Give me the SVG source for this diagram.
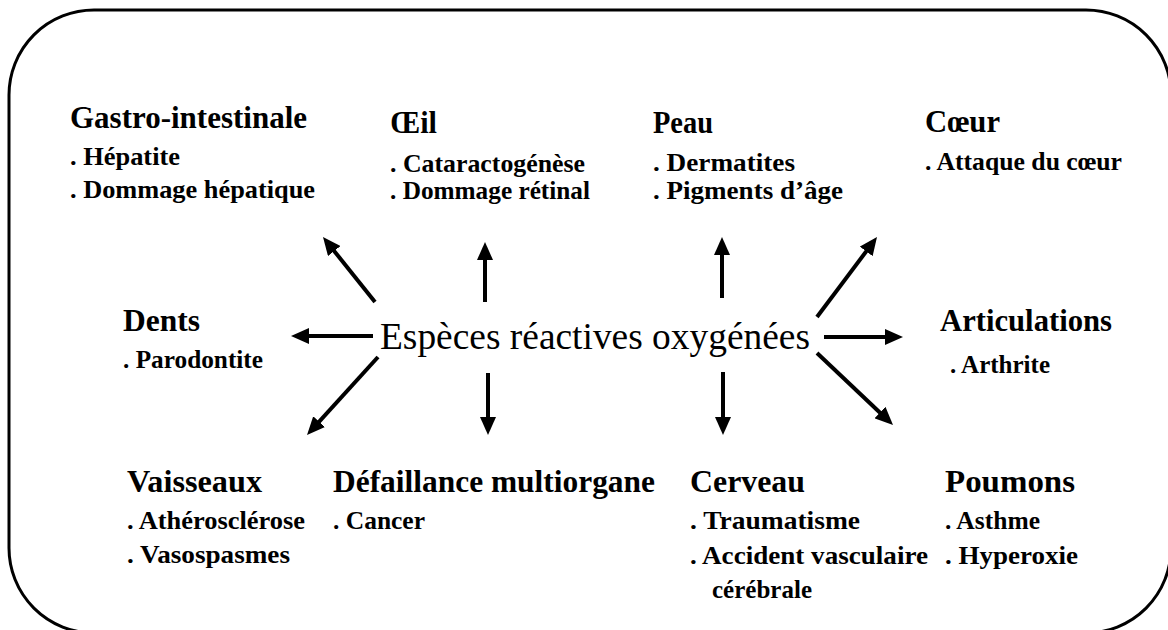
<svg xmlns="http://www.w3.org/2000/svg" width="1168" height="630" viewBox="0 0 1168 630">
<style>
.h{font-family:"Liberation Serif","Times New Roman",serif;font-weight:bold;font-size:32px;fill:#000}
.i{font-family:"Liberation Serif","Times New Roman",serif;font-weight:bold;font-size:26px;fill:#000}
.c{font-family:"Liberation Serif","Times New Roman",serif;font-size:38px;fill:#000}
.a{stroke:#000;stroke-width:4;fill:none;marker-end:url(#ah)}
</style>
<defs>
<marker id="ah" markerUnits="userSpaceOnUse" viewBox="0 0 18 16" markerWidth="18" markerHeight="16" refX="6" refY="8" orient="auto">
<path d="M0,0 L18,8 L0,16 z" fill="#000"/>
</marker>
</defs>
<rect width="1168" height="630" fill="#fff"/>
<rect x="9" y="10" width="1162" height="623" rx="85" ry="85" fill="none" stroke="#000" stroke-width="3"/>

<g id="center"><text class="c" x="380" y="349" textLength="430" lengthAdjust="spacingAndGlyphs">Espèces réactives oxygénées</text></g>

<g id="gastro">
<text class="h" x="70" y="128" textLength="237" lengthAdjust="spacingAndGlyphs">Gastro-intestinale</text>
<text class="i" x="70" y="165" textLength="110" lengthAdjust="spacingAndGlyphs">. Hépatite</text>
<text class="i" x="70" y="198" textLength="245" lengthAdjust="spacingAndGlyphs">. Dommage hépatique</text>
</g>
<g id="oeil">
<text class="h" x="390" y="133" textLength="47" lengthAdjust="spacingAndGlyphs">Œil</text>
<text class="i" x="390" y="172" textLength="195" lengthAdjust="spacingAndGlyphs">. Cataractogénèse</text>
<text class="i" x="390" y="199" textLength="200" lengthAdjust="spacingAndGlyphs">. Dommage rétinal</text>
</g>
<g id="peau">
<text class="h" x="653" y="133" textLength="60" lengthAdjust="spacingAndGlyphs">Peau</text>
<text class="i" x="653" y="171" textLength="142" lengthAdjust="spacingAndGlyphs">. Dermatites</text>
<text class="i" x="653" y="199" textLength="190" lengthAdjust="spacingAndGlyphs">. Pigments d’âge</text>
</g>
<g id="coeur">
<text class="h" x="925" y="132" textLength="75" lengthAdjust="spacingAndGlyphs">Cœur</text>
<text class="i" x="925" y="170" textLength="197" lengthAdjust="spacingAndGlyphs">. Attaque du cœur</text>
</g>
<g id="dents">
<text class="h" x="123" y="331" textLength="77" lengthAdjust="spacingAndGlyphs">Dents</text>
<text class="i" x="123" y="368" textLength="140" lengthAdjust="spacingAndGlyphs">. Parodontite</text>
</g>
<g id="articulations">
<text class="h" x="940" y="331" textLength="172" lengthAdjust="spacingAndGlyphs">Articulations</text>
<text class="i" x="950" y="373" textLength="100" lengthAdjust="spacingAndGlyphs">. Arthrite</text>
</g>
<g id="vaisseaux">
<text class="h" x="127" y="492" textLength="135" lengthAdjust="spacingAndGlyphs">Vaisseaux</text>
<text class="i" x="127" y="529" textLength="178" lengthAdjust="spacingAndGlyphs">. Athérosclérose</text>
<text class="i" x="127" y="563" textLength="163" lengthAdjust="spacingAndGlyphs">. Vasospasmes</text>
</g>
<g id="defaillance">
<text class="h" x="333" y="492" textLength="322" lengthAdjust="spacingAndGlyphs">Défaillance multiorgane</text>
<text class="i" x="333" y="529" textLength="92" lengthAdjust="spacingAndGlyphs">. Cancer</text>
</g>
<g id="cerveau">
<text class="h" x="690" y="492" textLength="115" lengthAdjust="spacingAndGlyphs">Cerveau</text>
<text class="i" x="690" y="529" textLength="170" lengthAdjust="spacingAndGlyphs">. Traumatisme</text>
<text class="i" x="690" y="564" textLength="238" lengthAdjust="spacingAndGlyphs">. Accident vasculaire</text>
<text class="i" x="712" y="598" textLength="100" lengthAdjust="spacingAndGlyphs">cérébrale</text>
</g>
<g id="poumons">
<text class="h" x="945" y="492" textLength="130" lengthAdjust="spacingAndGlyphs">Poumons</text>
<text class="i" x="945" y="529" textLength="95" lengthAdjust="spacingAndGlyphs">. Asthme</text>
<text class="i" x="945" y="564" textLength="133" lengthAdjust="spacingAndGlyphs">. Hyperoxie</text>
</g>

<g id="connectors">
<line class="a" x1="375" y1="302" x2="330.5" y2="246.4"/>
<line class="a" x1="485" y1="302" x2="485" y2="254"/>
<line class="a" x1="722" y1="298" x2="722" y2="249"/>
<line class="a" x1="817" y1="317" x2="869.8" y2="246.6"/>
<line class="a" x1="373" y1="336" x2="303" y2="336"/>
<line class="a" x1="824" y1="337" x2="891" y2="337"/>
<line class="a" x1="378" y1="357" x2="315.1" y2="426.1"/>
<line class="a" x1="488" y1="373" x2="488" y2="423"/>
<line class="a" x1="723" y1="372" x2="723" y2="423"/>
<line class="a" x1="817" y1="353" x2="884.3" y2="416.7"/>
</g>
</svg>
